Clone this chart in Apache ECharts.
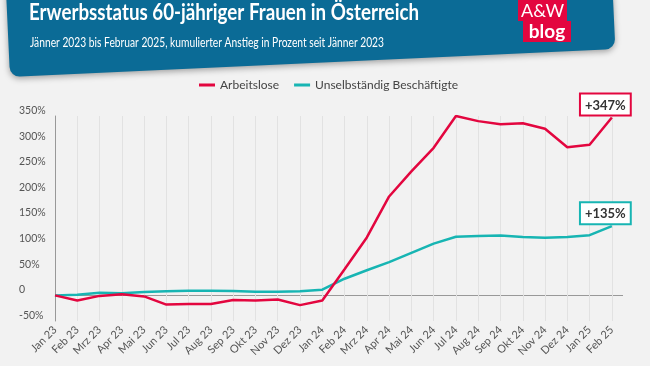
<!DOCTYPE html>
<html><head><meta charset="utf-8">
<script src="https://cdn.jsdelivr.net/npm/echarts@6/dist/echarts.min.js"></script>
<style>html,body{margin:0;padding:0;background:#f2f2f2}#c{width:650px;height:366px}</style>
</head><body><div id="c"></div>
<script>
const categories = ['Jan 23','Feb 23','Mrz 23','Apr 23','Mai 23','Jun 23','Jul 23','Aug 23','Sep 23','Okt 23','Nov 23','Dez 23','Jan 24','Feb 24','Mrz 24','Apr 24','Mai 24','Jun 24','Jul 24','Aug 24','Sep 24','Okt 24','Nov 24','Dez 24','Jan 25','Feb 25'];
const arbeitslose = [0,-10,-1,2,-2,-18,-17,-17,-9,-10,-8,-19,-10,51,113,193,242,288,350,340,334,336,325,289,294,347];
const beschaeftigte = [0,1,5,4,6.5,8,9,9,8.5,7,7,8,11,32.5,49,65,83,101,114.5,116,117,114,112.5,114,117.5,135];
const yTicks = [-50,0,50,100,150,200,250,300,350];
const seriesNames = ['Arbeitslose','Unselbständig Beschäftigte'];
const endLabels = ['+347%','+135%'];
const titleText = 'Erwerbsstatus 60-jähriger Frauen in Österreich';
const subtitleText = 'Jänner 2023 bis Februar 2025, kumulierter Anstieg in Prozent seit Jänner 2023';

const RED = '#e3063f', TEAL = '#17b5b3', BLUE = '#0b6b96';
const FONT = "Lato, 'Open Sans', sans-serif";

// horizontal condensing so the header text spans the same width as in the reference
const ctx = document.createElement('canvas').getContext('2d');
function widthOf(font, text) { ctx.font = font; return ctx.measureText(text).width; }
const titleFont = "bold 22px " + FONT;
const subFont = "13px " + FONT;
const titleScale = 390 / widthOf(titleFont, titleText);
const subScale = 354 / widthOf(subFont, subtitleText);

function endMark(vals, color, label) {
  const i = vals.length - 1;
  return {
    symbol: 'circle', symbolSize: 0, silent: true,
    label: {show: true, position: 'top', distance: 3, offset: [-6.5, 0], formatter: label,
      backgroundColor: '#fff', borderColor: color, borderWidth: 2, padding: [4, 4, 2, 4], lineHeight: 14,
      fontFamily: FONT, fontWeight: 'bold', fontSize: 13, color: '#333'},
    data: [{coord: [i, vals[i]]}]
  };
}

const chart = echarts.init(document.getElementById('c'), null, {renderer: 'canvas'});
chart.setOption({
  backgroundColor: '#f2f2f2',
  animation: false,
  textStyle: {fontFamily: FONT},
  graphic: [
    {type: 'rect', shape: {x: 10, y: -30, width: 606, height: 107, r: 10}, originX: 10, originY: 77, rotation: 0.0463,
     style: {fill: BLUE, shadowBlur: 6, shadowColor: 'rgba(0,0,0,0.35)', shadowOffsetY: 2}, z: 0},
    {type: 'text', x: 29, y: 2, scaleX: titleScale, style: {text: titleText, fill: '#fff', font: titleFont}, z: 2},
    {type: 'text', x: 30, y: 36, scaleX: subScale, style: {text: subtitleText, fill: '#fff', font: subFont}, z: 2},
    {type: 'rect', shape: {x: 518, y: 0, width: 49, height: 21}, style: {fill: RED}, z: 2},
    {type: 'rect', shape: {x: 523, y: 21, width: 48, height: 21}, style: {fill: RED}, z: 2},
    {type: 'text', x: 542.5, y: 11, style: {text: 'A&W', fill: '#fff', font: "18px " + FONT, align: 'center', verticalAlign: 'middle'}, z: 3},
    {type: 'text', x: 547, y: 31.5, style: {text: 'blog', fill: '#fff', font: "bold 19px " + FONT, align: 'center', verticalAlign: 'middle'}, z: 3}
  ],
  legend: {
    left: 199, top: 79, padding: 0, itemWidth: 16, itemHeight: 3, itemGap: 15, icon: 'rect',
    textStyle: {color: '#444', fontSize: 12, fontFamily: FONT},
    data: seriesNames
  },
  grid: {left: 55, right: 27, top: 116, bottom: 45, containLabel: false},
  xAxis: {
    type: 'value', min: 0, max: 25.5, interval: 1,
    axisLine: {show: false}, axisTick: {show: false},
    splitLine: {show: true, showMinLine: false, showMaxLine: false, lineStyle: {color: '#e2e2e2', width: 1}},
    axisLabel: {rotate: 45, margin: 7, color: '#555', fontSize: 11, fontFamily: FONT, showMaxLabel: false,
      formatter: v => (Number.isInteger(v) && categories[v]) ? categories[v] : ''}
  },
  yAxis: {
    type: 'value', min: -50, max: 350, interval: 50,
    axisLine: {show: true, onZero: false, lineStyle: {color: '#999', width: 1}},
    axisTick: {show: false},
    splitLine: {show: true, lineStyle: {color: yTicks.map(v => v === 0 ? '#999' : 'rgba(0,0,0,0)'), width: 1}},
    axisLabel: {margin: 36, align: 'left', verticalAlign: 'bottom', color: '#555', fontSize: 10.5, fontFamily: FONT,
      formatter: v => v === 0 ? '0' : v + '%'}
  },
  series: [
    {name: seriesNames[0], type: 'line', data: arbeitslose.map((v, i) => [i, v]), showSymbol: false, symbol: 'none',
     lineStyle: {color: RED, width: 2.5}, itemStyle: {color: RED}, z: 3, markPoint: endMark(arbeitslose, RED, endLabels[0])},
    {name: seriesNames[1], type: 'line', data: beschaeftigte.map((v, i) => [i, v]), showSymbol: false, symbol: 'none',
     lineStyle: {color: TEAL, width: 2.5}, itemStyle: {color: TEAL}, z: 2, markPoint: endMark(beschaeftigte, TEAL, endLabels[1])}
  ]
});
</script></body></html>
